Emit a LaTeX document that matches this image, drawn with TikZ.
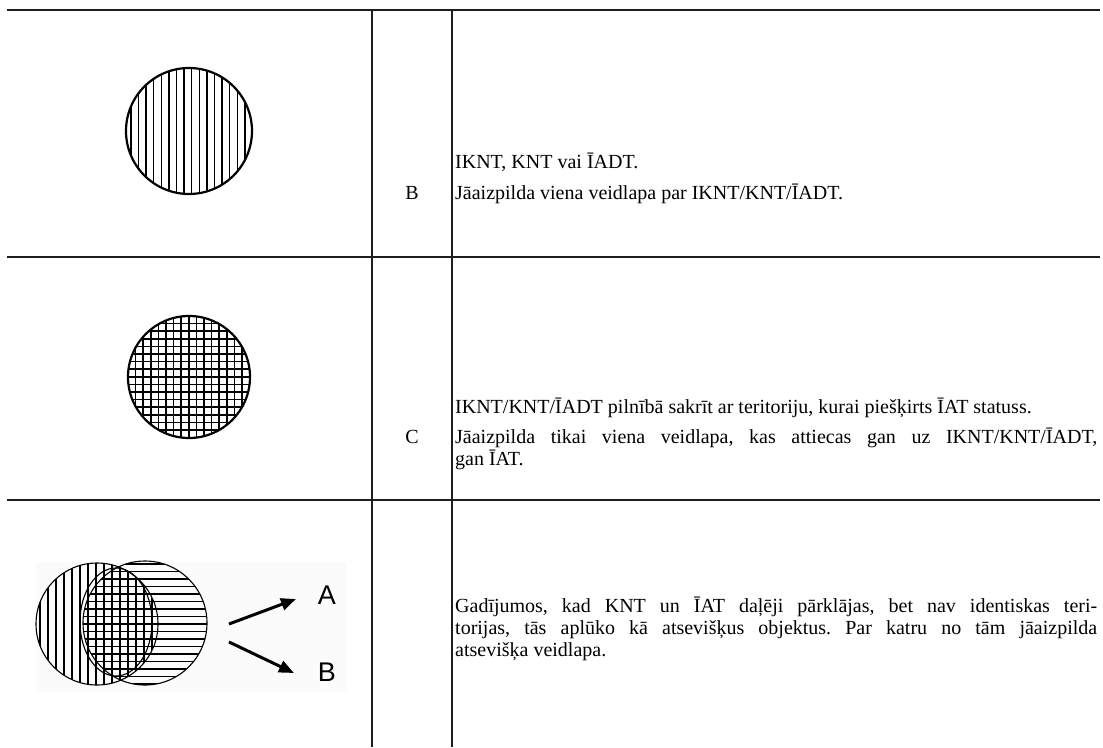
\documentclass[tikz,border=0pt]{standalone}
\usepackage{fontspec}
\setmainfont{Liberation Serif}
\newfontfamily\figfont{Liberation Sans}
\usetikzlibrary{arrows.meta}

\definecolor{rulegray}{HTML}{1E1E1E}
\tikzset{
  rulestyle/.style={line width=2pt, rulegray},
  hatch/.style={line width=1.5pt},
  rim/.style={line width=2.2pt},
  thinrim/.style={line width=1.1pt},
  bodytext/.style={anchor=base west, inner sep=0pt, text width=642pt, align=justify,
    font=\fontsize{20}{22}\selectfont\frenchspacing},
  casetag/.style={anchor=base, inner sep=0pt, font=\fontsize{20}{22}\selectfont},
  fork/.style={line width=3pt, -{Triangle[length=15pt,width=12pt]}},
  forklabel/.style={inner sep=0pt, font=\figfont\fontsize{27}{30}\selectfont}
}

\begin{document}
\begin{tikzpicture}[x=1pt, y=-1pt]
    \useasboundingbox (0,0) rectangle (1103,747);

    % Table rules
    \draw[rulestyle] (7,10) -- (1100,10);
    \draw[rulestyle] (7,257) -- (1100,257);
    \draw[rulestyle] (7,500) -- (1100,500);
    \draw[rulestyle] (372,10) -- (372,747);
    \draw[rulestyle] (452,10) -- (452,747);

    % Case B: vertical hatching
    \begin{scope}
        \clip (189,131) circle (63pt);
        \foreach \x in {130.9,138.5,...,253}
            \draw[hatch] (\x,60) -- (\x,200);
    \end{scope}
    \draw[rim] (189,131) circle (63pt);

    % Case C: cross hatching
    \begin{scope}
        \clip (189,377) circle (61pt);
        \foreach \x in {128,135.6,...,251}
            \draw[hatch] (\x,310) -- (\x,445);
        \foreach \y in {316,323.6,...,439}
            \draw[hatch] (120,\y) -- (260,\y);
    \end{scope}
    \draw[rim] (189,377) circle (61pt);

    % Overlapping territories
    \fill[black!1.5] (36,562) rectangle (347,692);
    \begin{scope}
        \clip (97,624) circle (61pt);
        \foreach \x in {40,48,...,160}
            \draw[hatch] (\x,555) -- (\x,695);
    \end{scope}
    \begin{scope}
        \clip (145,623) circle (62pt);
        \foreach \y in {564,571.5,...,686}
            \draw[hatch] (75,\y) -- (215,\y);
    \end{scope}
    \draw[thinrim] (97,624) circle (61pt);
    \draw[thinrim] (145,623) circle (62pt);
    \draw[thinrim] (116,622) ellipse (36pt and 54pt);

    \coordinate (forkA) at (229,624);
    \coordinate (tipA) at (296,599);
    \coordinate (forkB) at (229,642);
    \coordinate (tipB) at (294,673);
    \draw[fork] (forkA) -- (tipA);
    \draw[fork] (forkB) -- (tipB);
    \node[forklabel] (lblA) at (327,595) {A};
    \node[forklabel] (lblB) at (327,672) {B};

    % Case letters
    \node[casetag] (tagB) at (412,199) {B};
    \node[casetag] (tagC) at (412,443) {C};

    % Descriptions
    \node[bodytext] (bInfo1) at (455,168) {IKNT, KNT vai ĪADT.};
    \node[bodytext] (bInfo2) at (455,199) {Jāaizpilda viena veidlapa par IKNT/KNT/ĪADT.};
    \node[bodytext] (cInfo1) at (455,413)
        {IKNT/KNT/ĪADT pilnībā sakrīt ar teritoriju, kurai piešķirts ĪAT statuss.};
    \node[bodytext] (cInfo2) at (455,443)
        {Jāaizpilda tikai viena veidlapa, kas attiecas gan uz IKNT/KNT/ĪADT,\linebreak gan ĪAT.};
    \node[bodytext] (dInfo) at (455,612)
        {Gadījumos, kad KNT un ĪAT daļēji pārklājas, bet nav identiskas teri-\linebreak
         torijas, tās aplūko kā atsevišķus objektus. Par katru no tām jāaizpilda\linebreak
         atsevišķa veidlapa.};
\end{tikzpicture}
\end{document}
